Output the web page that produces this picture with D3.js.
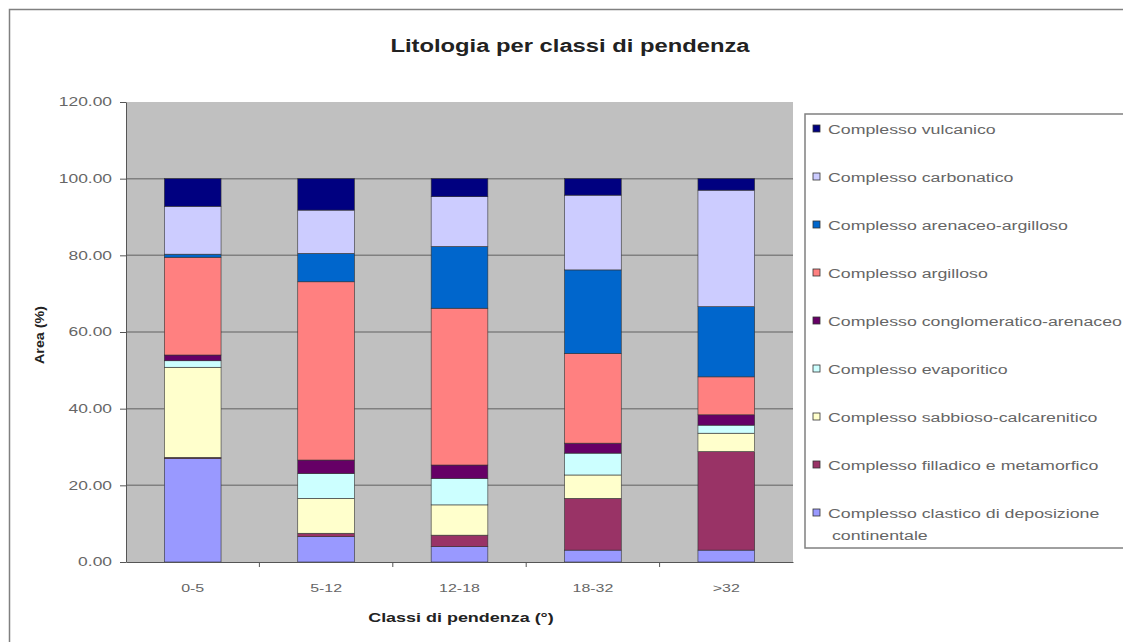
<!DOCTYPE html>
<html><head><meta charset="utf-8">
<script src="https://cdn.jsdelivr.net/npm/d3@7"></script>
<style>body{margin:0;background:#fff}svg{display:block}</style>
</head><body>
<svg id="c" width="1123" height="642"></svg>
<script>
const categories = ["0-5", "5-12", "12-18", "18-32", ">32"];
const seriesNames = [
  "Complesso clastico di deposizione continentale",
  "Complesso filladico e metamorfico",
  "Complesso sabbioso-calcarenitico",
  "Complesso evaporitico",
  "Complesso conglomeratico-arenaceo",
  "Complesso argilloso",
  "Complesso arenaceo-argilloso",
  "Complesso carbonatico",
  "Complesso vulcanico"
];
const seriesColors = ["#9999FF", "#993366", "#FFFFCC", "#CCFFFF", "#660066", "#FF8080", "#0066CC", "#CCCCFF", "#000080"];
const clastico      = [27.0, 6.6, 4.0, 3.1, 3.1];
const filladico     = [0.3, 0.9, 3.0, 13.5, 25.7];
const sabbioso      = [23.5, 9.1, 7.9, 6.1, 4.8];
const evaporitico   = [1.7, 6.5, 6.9, 5.7, 2.1];
const conglomerato  = [1.5, 3.5, 3.5, 2.6, 2.7];
const argilloso     = [25.5, 46.5, 40.9, 23.4, 9.9];
const arenaceo      = [0.8, 7.4, 16.1, 21.8, 18.3];
const carbonatico   = [12.5, 11.3, 13.0, 19.5, 30.4];
const vulcanico     = [7.2, 8.2, 4.7, 4.3, 3.0];
const yTicks = [0, 20, 40, 60, 80, 100, 120];

const seriesValues = [clastico, filladico, sabbioso, evaporitico, conglomerato, argilloso, arenaceo, carbonatico, vulcanico];
const rows = categories.map((c, i) => {
  const r = {cat: c};
  seriesNames.forEach((s, k) => r[s] = seriesValues[k][i]);
  return r;
});

const svg = d3.select("#c");
const font = "Arial, 'Liberation Sans', sans-serif";

// horizontally widen text (reference glyphs are stretched)
function stretch(sel, f) {
  sel.each(function() {
    const len = this.getComputedTextLength();
    this.setAttribute("textLength", (len * f).toFixed(1));
    this.setAttribute("lengthAdjust", "spacingAndGlyphs");
  });
}

// outer chart border
svg.append("rect").attr("x", 9.5).attr("y", 9.5).attr("width", 1120).attr("height", 640)
  .attr("fill", "#fff").attr("stroke", "#808080").attr("stroke-width", 1.5);

const L = 126, R = 793, T = 102, B = 562;
const x = d3.scaleBand().domain(categories).range([L, R]).paddingInner(0.575).paddingOuter(0.2875);
const y = d3.scaleLinear().domain([0, 120]).range([B, T]);

svg.append("rect").attr("x", L).attr("y", T).attr("width", R - L).attr("height", B - T).attr("fill", "#C0C0C0");

// gridlines
svg.append("g").selectAll("line").data(yTicks.filter(v => v > 0 && v < 120)).join("line")
  .attr("x1", L).attr("x2", R).attr("y1", d => y(d)).attr("y2", d => y(d))
  .attr("stroke", "#808080").attr("stroke-width", 1.5);

const stack = d3.stack().keys(seriesNames)(rows);
svg.append("g").selectAll("g").data(stack).join("g")
  .attr("fill", (d, i) => seriesColors[i])
  .selectAll("rect").data(d => d).join("rect")
  .attr("x", d => x(d.data.cat)).attr("width", x.bandwidth())
  .attr("y", d => y(d[1])).attr("height", d => y(d[0]) - y(d[1]))
  .attr("stroke", "#333").attr("stroke-width", 0.6);

// y axis
const yAxis = svg.append("g").attr("transform", `translate(${L},0)`)
  .call(d3.axisLeft(y).tickValues(yTicks).tickFormat(d3.format(".2f")).tickSize(6).tickSizeOuter(0));
yAxis.select(".domain").attr("stroke", "#555");
yAxis.selectAll("line").attr("stroke", "#555");
yAxis.selectAll("text").attr("font-family", font).attr("font-size", 12).attr("fill", "#666").attr("x", -14);
stretch(yAxis.selectAll("text"), 1.45);

// x axis
const xAxis = svg.append("g").attr("transform", `translate(0,${B})`)
  .call(d3.axisBottom(x).tickSize(0).tickSizeOuter(0));
xAxis.select(".domain").attr("stroke", "#555");
xAxis.selectAll("text").attr("font-family", font).attr("font-size", 11).attr("fill", "#666")
  .attr("y", 30).attr("dy", 0);
stretch(xAxis.selectAll("text"), 1.45);
svg.append("g").selectAll("line").data(categories.slice(1)).join("line")
  .attr("x1", d => x(d) - x.step() * x.paddingInner() / 2)
  .attr("x2", d => x(d) - x.step() * x.paddingInner() / 2)
  .attr("y1", B).attr("y2", B + 5).attr("stroke", "#555");

// titles
const title = svg.append("text").attr("x", 570).attr("y", 52).attr("text-anchor", "middle")
  .attr("font-family", font).attr("font-size", 18).attr("font-weight", "bold").attr("fill", "#222")
  .text("Litologia per classi di pendenza");
stretch(title, 1.32);
const xt = svg.append("text").attr("x", 461).attr("y", 622).attr("text-anchor", "middle")
  .attr("font-family", font).attr("font-size", 13).attr("font-weight", "bold").attr("fill", "#222")
  .text("Classi di pendenza (°)");
stretch(xt, 1.38);
const yt = svg.append("text").attr("transform", "translate(44,335) rotate(-90)").attr("text-anchor", "middle")
  .attr("font-family", font).attr("font-size", 13).attr("font-weight", "bold").attr("fill", "#222")
  .text("Area (%)");
stretch(yt, 1.1);

// legend
svg.append("rect").attr("x", 805).attr("y", 114).attr("width", 330).attr("height", 434)
  .attr("fill", "#fff").attr("stroke", "#808080").attr("stroke-width", 1.5);
const legendOrder = seriesNames.map((s, i) => ({s, c: seriesColors[i]})).reverse();
const lg = svg.append("g").selectAll("g").data(legendOrder).join("g")
  .attr("transform", (d, i) => `translate(813,${129 + i * 48})`);
lg.append("rect").attr("x", 0).attr("y", -4).attr("width", 7).attr("height", 7)
  .attr("fill", d => d.c).attr("stroke", "#333").attr("stroke-width", 0.8);
lg.each(function(d) {
  const g = d3.select(this);
  const lines = d.s.length > 40 ? ["Complesso clastico di deposizione", "continentale"] : [d.s];
  lines.forEach((ln, j) => {
    const t = g.append("text").attr("x", j ? 19 : 15).attr("y", 4.5 + j * 22)
      .attr("font-family", font).attr("font-size", 12.5).attr("fill", "#666").text(ln);
    stretch(t, 1.42);
  });
});
</script>
</body></html>
